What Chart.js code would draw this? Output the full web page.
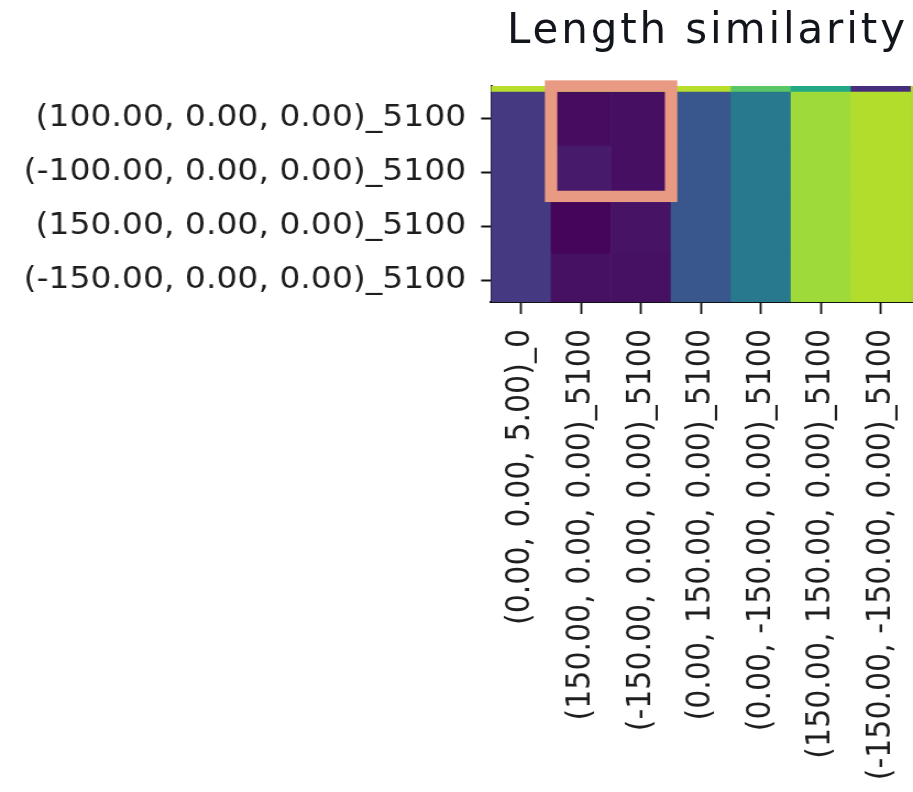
<!DOCTYPE html>
<html>
<head>
<meta charset="utf-8">
<script src="https://cdn.jsdelivr.net/npm/chart.js@4/dist/chart.umd.min.js"></script>
<style>
  html, body { margin: 0; padding: 0; background: #fff; overflow: hidden; width: 913px; height: 792px; }
  #title {
    position: absolute; left: 507px; top: 8px;
    font-family: "DejaVu Sans"; font-size: 42px; line-height: 42px;
    color: #12161c; white-space: nowrap;
  }
  /* the heatmap figure is rendered slightly widened */
  #wrap { position: absolute; left: 0; top: 0; width: 1000px; height: 792px; transform: scaleX(1.1); transform-origin: 0 0; }
  #c { width: 1000px; height: 792px; }
</style>
</head>
<body>
<div id="wrap"><canvas id="c" width="1000" height="792"></canvas></div>
<div id="title">Length similarity</div>
<script>
// Column (target) labels
const colLabels = [
  "(0.00, 0.00, 5.00)_0",
  "(150.00, 0.00, 0.00)_5100",
  "(-150.00, 0.00, 0.00)_5100",
  "(0.00, 150.00, 0.00)_5100",
  "(0.00, -150.00, 0.00)_5100",
  "(150.00, 150.00, 0.00)_5100",
  "(-150.00, -150.00, 0.00)_5100",
  "(150.00, -150.00, 0.00)_5100"
];

// Row (source) labels, top to bottom
const rowLabels = [
  "(0.00, 0.00, 0.00)_5100",
  "(100.00, 0.00, 0.00)_5100",
  "(-100.00, 0.00, 0.00)_5100",
  "(150.00, 0.00, 0.00)_5100",
  "(-150.00, 0.00, 0.00)_5100"
];

// Length similarity per row, one value per column (0 = dark purple, 1 = yellow)
const row0 = [0.89, 0.89, 0.89, 0.89, 0.74, 0.60, 0.13, 0.87];
const row1 = [0.165, 0.030, 0.040, 0.27, 0.405, 0.855, 0.885, 0.87];
const row2 = [0.165, 0.070, 0.040, 0.27, 0.405, 0.855, 0.885, 0.87];
const row3 = [0.165, 0.015, 0.050, 0.27, 0.405, 0.855, 0.885, 0.87];
const row4 = [0.165, 0.045, 0.045, 0.27, 0.405, 0.855, 0.885, 0.87];
const rows = [row0, row1, row2, row3, row4];

// Highlighted block (column indices, row indices)
const highlightCols = [1, 2];
const highlightRows = [1, 2];

// viridis colormap stops
const viridisStops = [
  "#440154", "#471365", "#482475", "#463480", "#414487", "#3b528b", "#355f8d",
  "#2f6c8e", "#2a788e", "#25848e", "#21918c", "#1e9c89", "#22a884", "#2fb47c",
  "#44bf70", "#5ec962", "#7ad151", "#9bd93c", "#bddf26", "#dfe318", "#fde725"
];
function hexToRgb(h) { return [1, 3, 5].map(i => parseInt(h.substr(i, 2), 16)); }
function viridis(v) {
  const t = Math.min(1, Math.max(0, v)) * (viridisStops.length - 1);
  const i = Math.min(Math.floor(t), viridisStops.length - 2);
  const f = t - i;
  const a = hexToRgb(viridisStops[i]), b = hexToRgb(viridisStops[i + 1]);
  const c = a.map((x, k) => Math.round(x + (b[k] - x) * f));
  return `rgb(${c[0]},${c[1]},${c[2]})`;
}

// Each row becomes a floating bar per column spanning [row, row + 1]
const datasets = rows.map((vals, r) => ({
  label: rowLabels[r],
  data: vals.map(() => [r, r + 1]),
  backgroundColor: vals.map(viridis),
  borderWidth: 0,
  borderSkipped: false,
  barPercentage: 1,
  categoryPercentage: 1,
  grouped: false
}));

const highlightBox = {
  id: 'highlightBox',
  afterDraw(chart) {
    const { ctx, chartArea, scales: { x, y } } = chart;
    const half = (x.getPixelForValue(1) - x.getPixelForValue(0)) / 2;
    const left = x.getPixelForValue(highlightCols[0]) - half;
    const right = x.getPixelForValue(highlightCols[1]) + half;
    const top = Math.min(chartArea.top, y.getPixelForValue(highlightRows[0]));
    const bottom = y.getPixelForValue(highlightRows[1] + 1) - 3;
    ctx.save();
    ctx.strokeStyle = '#e99a82';
    ctx.lineWidth = 11.3;
    ctx.strokeRect(left, top, right - left, bottom - top);
    ctx.restore();
  }
};

Chart.defaults.font.family = '"DejaVu Sans"';
Chart.defaults.color = '#1e1e1e';

new Chart(document.getElementById('c'), {
  type: 'bar',
  data: { labels: colLabels, datasets },
  options: {
    responsive: false,
    animation: false,
    layout: { padding: { top: 86, right: 117.2, left: 0, bottom: 0 } },
    plugins: { legend: { display: false }, tooltip: { enabled: false }, title: { display: false } },
    scales: {
      x: {
        type: 'category',
        offset: true,
        grid: { display: true, drawOnChartArea: false, offset: false, tickLength: 12, tickWidth: 1.8, tickColor: '#111' },
        border: { display: true, color: '#111', width: 2 },
        ticks: { autoSkip: false, minRotation: 90, maxRotation: 90, padding: 15, font: { size: 30 }, color: '#1e1e1e' },
        afterFit(scale) { scale.height = 490; }
      },
      y: {
        type: 'linear',
        reverse: true,
        min: 0.9,
        max: 4.9,
        grid: { display: true, drawOnChartArea: false, tickLength: 9, tickWidth: 2, tickColor: '#111' },
        border: { display: true, color: '#111', width: 1.8 },
        afterBuildTicks(scale) {
          scale.ticks = rowLabels.map((_, i) => ({ value: i + 0.5 }))
            .filter(t => t.value >= scale.min && t.value <= scale.max);
        },
        ticks: {
          padding: 13.6,
          font: { size: 30 },
          color: '#1e1e1e',
          callback: (v) => rowLabels[Math.round(v - 0.5)]
        },
        afterFit(scale) { scale.width = 446.4; }
      }
    }
  },
  plugins: [highlightBox]
});

// spread the title to its set width
const titleEl = document.getElementById('title');
const meas = document.createElement('canvas').getContext('2d');
meas.font = '42px "DejaVu Sans"';
const natural = meas.measureText(titleEl.textContent).width;
titleEl.style.letterSpacing = ((398 - natural) / (titleEl.textContent.length - 1)) + 'px';
</script>
</body>
</html>
